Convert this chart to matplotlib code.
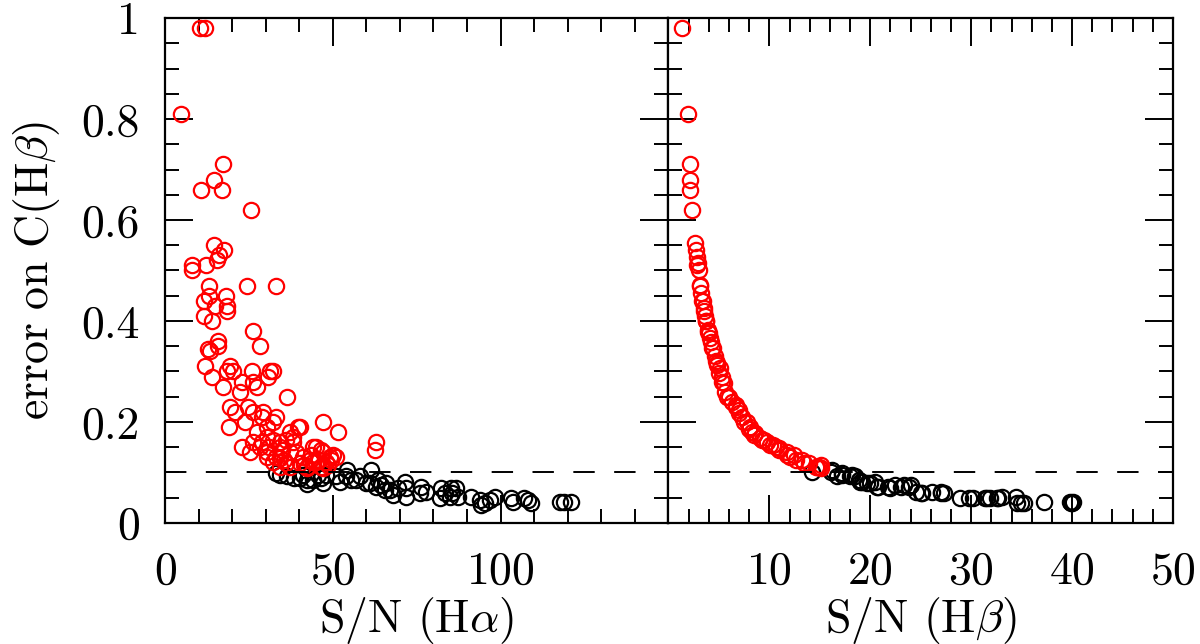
import matplotlib
matplotlib.use('Agg')
import matplotlib.pyplot as plt
from matplotlib.ticker import MultipleLocator, FixedLocator, FixedFormatter

# 字体设置
plt.rcParams['font.family'] = ['cmr10', 'DejaVu Serif']
plt.rcParams['mathtext.fontset'] = 'cm'
plt.rcParams['axes.unicode_minus'] = False
plt.rcParams['axes.formatter.use_mathtext'] = True

# 左图: S/N(Ha) 与误差 (红色 > 0.1)
sn_ha_red = [10.4, 11.9, 4.8, 17.3, 14.6, 10.6, 17.0, 25.5, 14.6, 17.6, 16.1, 15.4,
             7.9, 7.9, 12.2, 24.3, 33.2, 13.1, 13.1, 18.1, 11.7, 14.9, 18.6, 18.6,
             11.7, 13.9, 26.1, 28.3, 15.8, 15.7, 12.8, 13.4, 11.9, 19.3, 18.4, 13.9,
             20.3, 25.8, 31.3, 32.2, 30.7, 26.3, 22.8, 17.4, 22.3, 27.3, 36.5, 19.3,
             20.8, 24.8, 26.3, 33.2, 28.8, 23.8, 30.3, 47.1, 51.6, 19.0, 37.2, 40.2,
             29.3, 32.2, 39.7, 30.3, 34.2, 38.2, 44.1, 46.6, 50.1, 22.8, 26.3, 28.3,
             32.2, 36.2, 34.2, 38.2, 25.3, 30.3, 33.2, 37.2, 41.2, 45.1, 47.1, 51.1,
             30.3, 34.2, 43.2, 45.1, 48.1, 49.1, 32.2, 36.2, 40.2, 44.1, 37.2, 42.2,
             47.1, 34.2, 42.2, 63.0, 62.5, 27.5, 31.0, 35.5, 39.0, 41.5, 46.0, 48.5,
             29.0, 35.0, 43.5, 46.5, 49.5]
err_ha_red = [0.98, 0.98, 0.81, 0.71, 0.68, 0.66, 0.66, 0.62, 0.55, 0.54, 0.53, 0.52,
              0.51, 0.50, 0.51, 0.47, 0.47, 0.47, 0.45, 0.45, 0.44, 0.43, 0.43, 0.42,
              0.41, 0.40, 0.38, 0.35, 0.36, 0.35, 0.345, 0.34, 0.31, 0.31, 0.30, 0.29,
              0.30, 0.30, 0.30, 0.30, 0.29, 0.28, 0.28, 0.27, 0.26, 0.27, 0.25, 0.23,
              0.22, 0.23, 0.22, 0.21, 0.21, 0.20, 0.19, 0.20, 0.18, 0.19, 0.18, 0.19,
              0.22, 0.20, 0.19, 0.17, 0.16, 0.16, 0.15, 0.145, 0.135, 0.15, 0.16, 0.15,
              0.165, 0.165, 0.15, 0.17, 0.14, 0.14, 0.13, 0.14, 0.13, 0.15, 0.14, 0.13,
              0.13, 0.128, 0.125, 0.12, 0.12, 0.13, 0.12, 0.118, 0.118, 0.12, 0.11, 0.108,
              0.108, 0.11, 0.11, 0.16, 0.145, 0.18, 0.15, 0.125, 0.14, 0.115, 0.125, 0.115,
              0.16, 0.145, 0.135, 0.11, 0.125]
sn_ha_blk = [34.2, 33.2, 36.5, 38.5, 40.2, 42.2, 42.2, 44.1, 41.2, 46.6, 48.0, 51.1,
             52.1, 54.1, 54.0, 58.0, 57.0, 61.5, 61.0, 63.5, 63.0, 66.0, 67.0, 68.0,
             71.4, 71.9, 71.9, 76.4, 75.9, 77.9, 82.3, 83.3, 81.8, 85.3, 86.8, 84.8,
             87.3, 91.3, 93.8, 94.2, 96.7, 98.2, 103.2, 103.7, 108.1, 109.1, 117.6, 119.0,
             121.0, 55.5, 60.0, 64.5, 69.5, 47.0, 45.5, 65.5, 85.5, 95.5, 107.0]
err_ha_blk = [0.095, 0.098, 0.092, 0.088, 0.088, 0.078, 0.085, 0.085, 0.095, 0.088, 0.095, 0.092,
              0.082, 0.105, 0.092, 0.092, 0.085, 0.105, 0.079, 0.085, 0.072, 0.079, 0.065, 0.055,
              0.082, 0.069, 0.052, 0.072, 0.059, 0.062, 0.069, 0.059, 0.049, 0.069, 0.069, 0.052,
              0.052, 0.052, 0.046, 0.036, 0.046, 0.052, 0.049, 0.042, 0.046, 0.039, 0.042, 0.042,
              0.042, 0.085, 0.080, 0.075, 0.070, 0.080, 0.095, 0.065, 0.060, 0.040, 0.050]

# 右图: S/N(Hb) 与误差
sn_hb_red = [1.34, 1.9, 2.1, 2.1, 2.16, 2.3, 2.65, 2.75, 2.8, 2.85, 2.9, 3.0, 3.1, 3.15,
             3.25, 3.35, 3.4, 3.5, 3.5, 3.6, 3.7, 3.75, 3.9, 3.9, 4.0, 4.1, 4.2, 4.35,
             4.45, 4.6, 4.7, 4.85, 4.85, 5.0, 5.15, 5.3, 5.3, 5.5, 5.65, 5.8, 6.0, 6.3,
             6.65, 6.65, 7.0, 7.0, 7.3, 7.5, 7.8, 8.0, 8.1, 8.3, 8.45, 8.6, 9.1, 9.3,
             9.45, 9.8, 10.1, 10.4, 10.7, 11.0, 11.0, 11.8, 11.8, 12.0, 12.4, 12.6, 13.2,
             13.4, 13.9, 14.6, 14.7, 15.1, 15.1, 14.9]
err_hb_red = [0.98, 0.81, 0.71, 0.68, 0.66, 0.62, 0.554, 0.54, 0.527, 0.51, 0.514, 0.50, 0.47, 0.471,
              0.455, 0.44, 0.44, 0.425, 0.42, 0.41, 0.40, 0.40, 0.382, 0.379, 0.376, 0.366, 0.359, 0.346,
              0.346, 0.33, 0.32, 0.316, 0.313, 0.296, 0.306, 0.29, 0.28, 0.277, 0.26, 0.25, 0.25, 0.24,
              0.234, 0.23, 0.224, 0.217, 0.21, 0.20, 0.20, 0.187, 0.19, 0.18, 0.174, 0.178, 0.168, 0.165,
              0.164, 0.161, 0.154, 0.154, 0.15, 0.148, 0.145, 0.141, 0.135, 0.13, 0.135, 0.125, 0.125,
              0.118, 0.118, 0.111, 0.111, 0.115, 0.108, 0.111]
sn_hb_blk = [14.2, 16.1, 16.2, 16.7, 17.2, 17.2, 18.0, 18.2, 18.5, 18.9, 19.0, 19.2, 19.7,
             20.0, 20.5, 20.7, 20.8, 21.8, 22.0, 22.5, 23.0, 23.3, 23.8, 24.0, 24.5, 25.0,
             25.1, 26.1, 27.0, 27.0, 27.3, 28.9, 29.8, 30.2, 31.4, 31.6, 31.9, 32.6, 32.7,
             33.1, 34.4, 34.5, 34.9, 35.2, 37.2, 39.8, 40.1, 39.9, 40.0]
err_hb_blk = [0.10, 0.10, 0.105, 0.092, 0.095, 0.098, 0.092, 0.095, 0.092, 0.085, 0.082, 0.082, 0.079,
              0.079, 0.082, 0.072, 0.072, 0.072, 0.069, 0.075, 0.072, 0.075, 0.072, 0.075, 0.062, 0.059,
              0.059, 0.062, 0.062, 0.059, 0.059, 0.049, 0.049, 0.049, 0.049, 0.049, 0.049, 0.049, 0.049,
              0.052, 0.052, 0.039, 0.039, 0.039, 0.042, 0.042, 0.042, 0.039, 0.040]

y_ticks = [0, 0.2, 0.4, 0.6, 0.8, 1]
y_tick_labels = ['0', '0.2', '0.4', '0.6', '0.8', '1']
left_x_ticks = [0, 50, 100]
right_x_ticks = [10, 20, 30, 40, 50]
err_limit = 0.1

fig = plt.figure(figsize=(12, 6.44), dpi=100)
ax1 = fig.add_axes([0.1375, 0.188, 0.4195, 0.784])
ax2 = fig.add_axes([0.5570, 0.188, 0.4205, 0.784])

mk = dict(marker='o', linestyle='none', markersize=11, markerfacecolor='none',
          markeredgewidth=1.6)

ax1.plot(sn_ha_blk, err_ha_blk, markeredgecolor='black', **mk)
ax1.plot(sn_ha_red, err_ha_red, markeredgecolor='red', **mk)
ax2.plot(sn_hb_blk, err_hb_blk, markeredgecolor='black', **mk)
ax2.plot(sn_hb_red, err_hb_red, markeredgecolor='red', **mk)

for ax in (ax1, ax2):
    ax.axhline(err_limit, color='black', lw=1.4, dashes=(11, 10))
    ax.set_ylim(0, 1)
    ax.yaxis.set_major_locator(FixedLocator(y_ticks))
    ax.yaxis.set_minor_locator(MultipleLocator(0.05))
    ax.tick_params(which='both', direction='in', top=True, right=True, width=1.4)
    ax.tick_params(which='major', length=20)
    ax.tick_params(which='minor', length=10)
    ax.tick_params(axis='x', labelsize=33, pad=20)
    ax.tick_params(axis='y', labelsize=33, pad=18)
    for s in ax.spines.values():
        s.set_linewidth(1.6)

ax1.set_xlim(0, 150)
ax1.xaxis.set_major_locator(FixedLocator(left_x_ticks))
ax1.xaxis.set_minor_locator(MultipleLocator(10))
ax1.yaxis.set_major_formatter(FixedFormatter(y_tick_labels))
ax1.set_xlabel(r'S/N (H$\alpha$)', fontsize=33, labelpad=2)
ax1.set_ylabel(r'$\mathrm{error\ on\ C(H}\beta\mathrm{)}$', fontsize=33, labelpad=14)

ax2.set_xlim(0, 50)
ax2.xaxis.set_major_locator(FixedLocator(right_x_ticks))
ax2.xaxis.set_minor_locator(MultipleLocator(2))
ax2.set_yticklabels([])
ax2.set_xlabel(r'S/N (H$\beta$)', fontsize=33, labelpad=2)

fig.savefig('out.png', dpi=100)
